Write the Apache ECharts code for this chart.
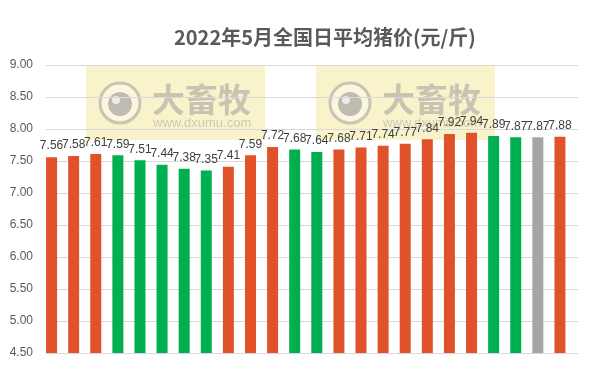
<!DOCTYPE html>
<html>
<head>
<meta charset="utf-8">
<script src="https://cdn.jsdelivr.net/npm/echarts@6/dist/echarts.min.js"></script>
<style>
  html, body { margin: 0; padding: 0; background: #fff; }
  #main { width: 592px; height: 378px; }
</style>
</head>
<body>
<div id="main"></div>
<script>
// 5月每日均价（元/斤）
var days = ['1', '2', '3', '4', '5', '6', '7', '8', '9', '10', '11', '12',
            '13', '14', '15', '16', '17', '18', '19', '20', '21', '22', '23', '24'];
var prices = [7.56, 7.58, 7.61, 7.59, 7.51, 7.44, 7.38, 7.35, 7.41, 7.59, 7.72, 7.68,
              7.64, 7.68, 7.71, 7.74, 7.77, 7.84, 7.92, 7.94, 7.89, 7.87, 7.87, 7.88];
var yTicks = [4.5, 5.0, 5.5, 6.0, 6.5, 7.0, 7.5, 8.0, 8.5, 9.0];

var UP = '#E0532A', DOWN = '#00B050', FLAT = '#A5A5A5';

// 涨红跌绿，平盘灰色（第一天按上涨处理）
var barData = prices.map(function (v, i) {
    var c = UP;
    if (i > 0) {
        if (v < prices[i - 1]) c = DOWN;
        else if (v === prices[i - 1]) c = FLAT;
    }
    return { value: v, itemStyle: { color: c } };
});

var yMin = yTicks[0], yMax = yTicks[yTicks.length - 1];
var yStep = yTicks[1] - yTicks[0];

// 水印
function watermark(x) {
    return {
        type: 'group',
        left: x, top: 66,
        z: 100,
        children: [
            { type: 'rect', shape: { x: 0, y: 0, width: 179, height: 74 },
              style: { fill: 'rgba(236,214,86,0.3)' } },
            { type: 'circle', shape: { cx: 34, cy: 37, r: 20 },
              style: { fill: 'rgba(255,255,255,0.35)', stroke: 'rgba(150,150,150,0.5)', lineWidth: 3 } },
            { type: 'circle', shape: { cx: 34, cy: 38, r: 12 },
              style: { fill: 'rgba(140,140,140,0.55)' } },
            { type: 'circle', shape: { cx: 30, cy: 34, r: 4 },
              style: { fill: 'rgba(255,255,255,0.7)' } },
            { type: 'text', x: 66, y: 33,
              style: { text: '大畜牧', fill: 'rgba(150,150,150,0.5)', font: 'bold 33px "Noto Sans CJK SC"',
                       verticalAlign: 'middle' } },
            { type: 'text', x: 67, y: 57,
              style: { text: 'www.dxumu.com', fill: 'rgba(150,150,150,0.45)', font: '13px "Liberation Sans"',
                       verticalAlign: 'middle' } }
        ]
    };
}

var option = {
    backgroundColor: '#fff',
    animation: false,
    title: {
        text: '2022年5月全国日平均猪价(元/斤)',
        left: 169, top: 22,
        textStyle: { fontFamily: 'Noto Sans CJK SC', fontSize: 20, fontWeight: 'bold', color: '#595959' }
    },
    grid: [
        { left: 46, right: 14, top: 65, bottom: 25 },    // 网格线
        { left: 40.5, right: 21, top: 65, bottom: 25 }   // 柱子
    ],
    xAxis: [
        { gridIndex: 0, type: 'category', data: days, show: false },
        { gridIndex: 1, type: 'category', data: days, show: false }
    ],
    yAxis: [
        {
            gridIndex: 0, type: 'value', min: yMin, max: yMax, interval: yStep,
            axisLine: { show: false }, axisTick: { show: false },
            axisLabel: {
                margin: 13, color: '#595959', fontFamily: 'Liberation Sans', fontSize: 12,
                formatter: function (v) { return v.toFixed(2); }
            },
            splitLine: { lineStyle: { color: '#D9D9D9', width: 1 } }
        },
        { gridIndex: 1, type: 'value', min: yMin, max: yMax, interval: yStep, show: false, splitLine: { show: false } }
    ],
    graphic: [watermark(86), watermark(316)],
    series: [{
        type: 'bar',
        xAxisIndex: 1, yAxisIndex: 1,
        barWidth: 11,
        data: barData,
        label: {
            show: true, position: 'top', distance: 5,
            color: '#404040', fontFamily: 'Liberation Sans', fontSize: 12,
            formatter: function (p) { return p.value.toFixed(2); }
        }
    }]
};

var myChart = echarts.init(document.getElementById('main'));
myChart.setOption(option);
</script>
</body>
</html>
